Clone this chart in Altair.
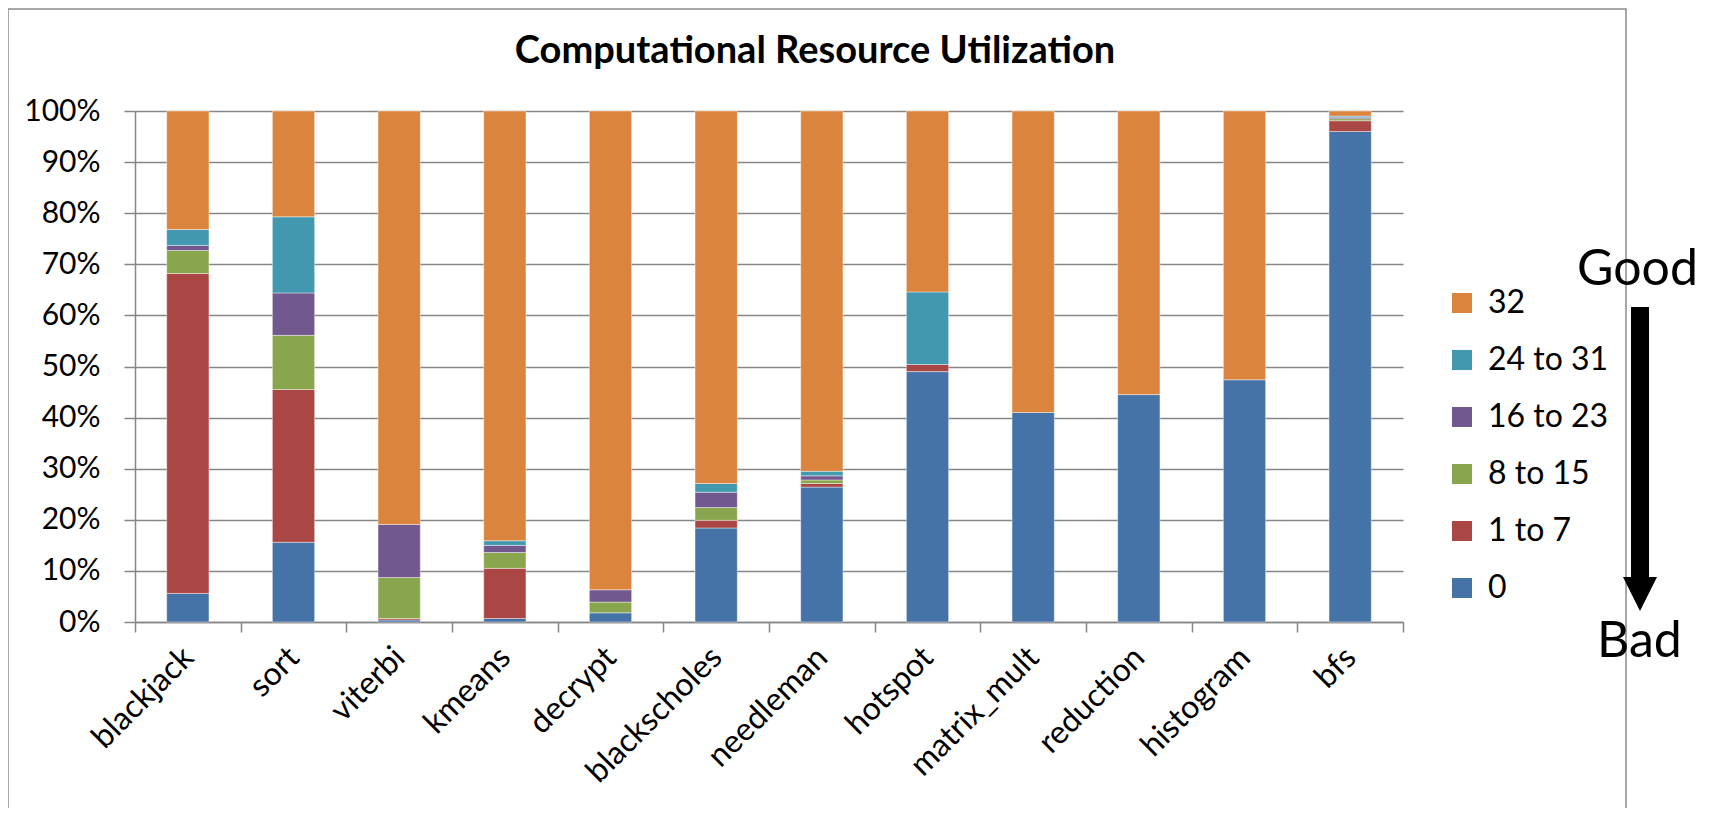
import altair as alt
import pandas as pd

benchmarks = ["blackjack", "sort", "viterbi", "kmeans", "decrypt", "blackscholes",
              "needleman", "hotspot", "matrix_mult", "reduction", "histogram", "bfs"]
series = ["0", "1 to 7", "8 to 15", "16 to 23", "24 to 31", "32"]

# percentages per benchmark
v_0 = [5.6, 15.6, 0.4, 0.7, 1.8, 18.4, 26.4, 49.0, 41.0, 44.5, 47.4, 96.0]
v_1_7 = [62.6, 29.9, 0.3, 9.8, 0.0, 1.5, 0.7, 1.4, 0.0, 0.0, 0.0, 2.1]
v_8_15 = [4.5, 10.6, 8.0, 3.1, 2.1, 2.5, 0.7, 0.0, 0.0, 0.0, 0.0, 0.4]
v_16_23 = [1.0, 8.3, 10.4, 1.4, 2.4, 3.0, 0.8, 0.0, 0.0, 0.0, 0.0, 0.3]
v_24_31 = [3.1, 14.9, 0.0, 0.9, 0.0, 1.7, 0.9, 14.2, 0.0, 0.0, 0.0, 0.2]
v_32 = [23.2, 20.7, 80.9, 84.1, 93.7, 72.9, 70.5, 35.4, 59.0, 55.5, 52.6, 1.0]

colors = ["#4572A7", "#AA4643", "#89A54E", "#71588F", "#4198AF", "#DB843D"]

all_values = [v_0, v_1_7, v_8_15, v_16_23, v_24_31, v_32]
rows = []
for si, (name, vals) in enumerate(zip(series, all_values)):
    for b, v in zip(benchmarks, vals):
        if v > 0:
            rows.append({"benchmark": b, "series": name, "order": si, "value": v})
df = pd.DataFrame(rows)

FONT = "Lato"
GRAY = "#868686"

bars = alt.Chart(df).mark_bar(
    width=alt.RelativeBandSize(0.4), stroke="white", strokeWidth=0.6, strokeOpacity=0.7
).encode(
    x=alt.X("benchmark:N", sort=benchmarks,
            scale=alt.Scale(paddingInner=0, paddingOuter=0),
            axis=alt.Axis(title=None, labelAngle=-45, labelAlign="right",
                          labelBaseline="middle", labelFont=FONT, labelFontSize=32,
                          labelColor="black", labelPadding=20, tickBand="extent",
                          tickSize=10, tickColor=GRAY, tickWidth=1.5,
                          domainColor=GRAY, domainWidth=1.5, grid=False)),
    y=alt.Y("value:Q", stack="normalize", scale=alt.Scale(domain=[0, 1]),
            axis=alt.Axis(title=None, format=".0%",
                          values=[i / 10 for i in range(11)],
                          grid=True, gridColor=GRAY, gridWidth=1.5,
                          tickSize=11, tickColor=GRAY, tickWidth=1.5,
                          domainColor=GRAY, domainWidth=1.5,
                          labelPadding=24, labelFont=FONT, labelFontSize=30,
                          labelColor="black")),
    color=alt.Color("series:N",
                    scale=alt.Scale(domain=series[::-1], range=colors[::-1]),
                    legend=alt.Legend(title=None, orient="none", legendX=1311, legendY=176,
                                      direction="vertical", symbolType="square",
                                      symbolSize=400, symbolStrokeWidth=0,
                                      labelFont=FONT, labelFontSize=32,
                                      labelColor="black", labelOffset=10,
                                      rowPadding=25, padding=0)),
    order=alt.Order("order:Q", sort="ascending"),
)

frame = alt.Chart(pd.DataFrame({"k": [0]})).mark_rect(
    fillOpacity=0, stroke="#8c8c8c", strokeWidth=1.5
).encode(x=alt.value(-127), x2=alt.value(1491), y=alt.value(-102), y2=alt.value(760))

title = alt.Chart(pd.DataFrame({"t": ["Computational Resource Utilization"]})).mark_text(
    font=FONT, fontSize=38, fontWeight="bold", align="center", baseline="middle", color="black"
).encode(text="t:N", x=alt.value(680), y=alt.value(-59))

good = alt.Chart(pd.DataFrame({"t": ["Good"]})).mark_text(
    font=FONT, fontSize=50, align="left", baseline="alphabetic", color="black"
).encode(text="t:N", x=alt.value(1442), y=alt.value(174))

bad = alt.Chart(pd.DataFrame({"t": ["Bad"]})).mark_text(
    font=FONT, fontSize=50, align="left", baseline="alphabetic", color="black"
).encode(text="t:N", x=alt.value(1462), y=alt.value(546))

shaft = alt.Chart(pd.DataFrame({"k": [0]})).mark_rule(
    color="black", strokeWidth=18
).encode(x=alt.value(1505), y=alt.value(196), y2=alt.value(467))

head = alt.Chart(pd.DataFrame({"k": [0]})).mark_point(
    shape="M-1,-1L0,1L1,-1Z", filled=True, color="black", opacity=1, size=1156
).encode(x=alt.value(1505), y=alt.value(483))

chart = alt.layer(frame, bars, title, good, bad, shaft, head).properties(
    width=1268, height=511,
    padding={"left": 127, "top": 103, "right": 306, "bottom": 186},
    autosize=alt.AutoSizeParams(type="none"),
    background="white",
).configure_view(strokeWidth=0)

chart.save("out.html", embed_options={"renderer": "svg", "actions": False})
